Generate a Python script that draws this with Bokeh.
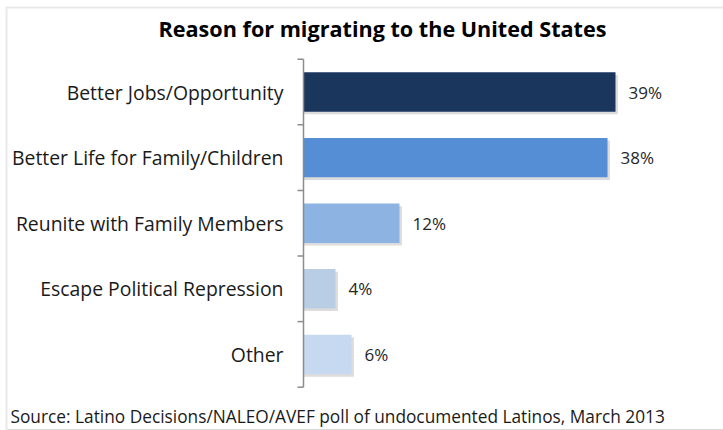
import numpy as np
from bokeh.plotting import figure
from bokeh.models import ColumnDataSource, Range1d, Label, BoxAnnotation
from bokeh.core.properties import value
from bokeh.transform import dodge
from bokeh.embed import file_html
from bokeh.resources import INLINE

# ---- data ----
categories = ["Better Jobs/Opportunity", "Better Life for Family/Children",
              "Reunite with Family Members", "Escape Political Repression", "Other"]
values = [39, 38, 12, 4, 6]
bar_colors = ["#1b365d", "#558ed5", "#8db3e2", "#b9cde5", "#c6d9f1"]
title_text = "Reason for migrating to the United States"
source_text = "Source: Latino Decisions/NALEO/AVEF poll of undocumented Latinos, March 2013"

# ---- layout (pixels) ----
W, H = 723, 430
AXIS_X = 303        # x pixel of the value axis (0 %)
PX_PER_PCT = 8      # pixels per percentage point
TOP_PX = 58.7       # pixel y of the top of the first category band
BAND_PX = 65.6      # pixel height of one category band

n = len(categories)
pos = [i + 0.5 for i in range(n)]
bounds = list(range(n + 1))
src = ColumnDataSource(dict(y=pos, val=values, color=bar_colors, cat=categories,
                            lbl=[f"{v}%" for v in values]))

FONT = "Open Sans"
GRAY = "#8c8c8c"

p = figure(width=W, height=H, output_backend="svg", toolbar_location=None,
           x_range=Range1d(-AXIS_X / PX_PER_PCT, (W - AXIS_X) / PX_PER_PCT),
           y_range=Range1d((H - TOP_PX) / BAND_PX, -TOP_PX / BAND_PX),
           x_axis_location=None, y_axis_location=None,
           min_border=0)
p.outline_line_color = None
p.xgrid.visible = False
p.ygrid.visible = False
p.background_fill_color = "white"
p.border_fill_color = "white"

# outer chart frame
p.add_layout(BoxAnnotation(left=6, right=W + 20, bottom=-20, top=H - 7,
                           left_units="screen", right_units="screen",
                           top_units="screen", bottom_units="screen",
                           fill_color=None, line_color="#b4b4b4", line_width=2))
p.add_layout(BoxAnnotation(left=7, right=W, bottom=0, top=1.5,
                           left_units="screen", right_units="screen",
                           top_units="screen", bottom_units="screen",
                           fill_color="#d9d9d9", fill_alpha=1, line_color=None))

# shadow
p.hbar(y=dodge("y", 0.04, range=p.y_range), left=0, right=dodge("val", 0.3, range=p.x_range),
       height=0.6, source=src, fill_color="#9a9a9a", fill_alpha=0.35, line_color=None)
# bars
p.hbar(y="y", left=0, right="val", height=0.6, source=src,
       fill_color="color", line_color=None)
# value labels
p.text(x="val", y="y", text="lbl", source=src, x_offset=13,
       text_baseline="middle", text_align="left", text_font=value(FONT),
       text_font_size="17px", text_color="#262626")

# category axis: line, boundary ticks, labels
p.segment(x0=0, y0=bounds[0], x1=0, y1=bounds[-1], line_color=GRAY, line_width=1.5)
p.ray(x=[0] * len(bounds), y=bounds, length=6, length_units="screen", angle=np.pi,
      line_color=GRAY, line_width=1.5)
p.text(x=0, y="y", text="cat", source=src, x_offset=-20,
       text_baseline="middle", text_align="right", text_font=value(FONT),
       text_font_size="19.4px", text_color="#1a1a1a")

# title and source
p.add_layout(Label(x=382, y=H - 28, x_units="screen", y_units="screen", text=title_text,
                   text_align="center", text_baseline="middle", text_font=FONT,
                   text_font_style="bold", text_font_size="21.6px", text_color="#000000"))
p.add_layout(Label(x=10, y=H - 416, x_units="screen", y_units="screen", text=source_text,
                   text_align="left", text_baseline="middle", text_font=FONT,
                   text_font_size="17.3px", text_color="#1a1a1a"))

open("out.html", "w").write(file_html(p, INLINE))
